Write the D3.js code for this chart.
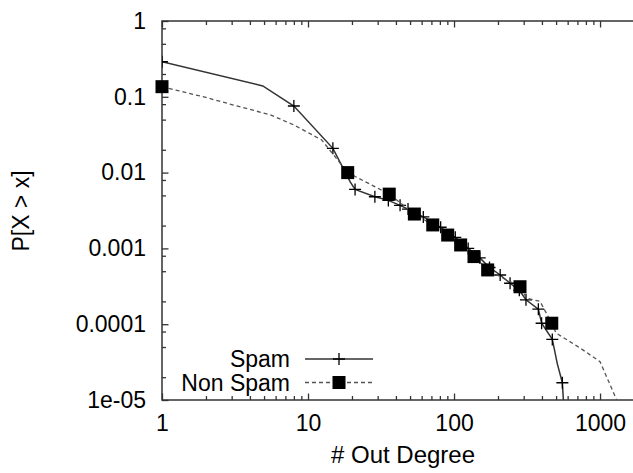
<!DOCTYPE html>
<html>
<head>
<meta charset="utf-8">
<script src="https://cdn.jsdelivr.net/npm/d3@7"></script>
<style>
  body { margin: 0; background: #fff; }
  svg { display: block; font-family: "Liberation Sans", Arial, sans-serif; }
</style>
</head>
<body>
<div id="chart"></div>
<script>
// out degree CCDF
var spamX = [1, 4.9, 8, 14.8, 19.5, 21, 28.7, 35.5, 42.7, 48.4, 61.6, 81, 102, 125, 150, 175, 207, 242, 280, 311, 378, 398, 471, 510, 552, 561];
var spamP = [0.29, 0.139, 0.0756, 0.0209, 0.0075, 0.006, 0.0048, 0.0043, 0.0037, 0.0033, 0.0026, 0.0019, 0.0014, 0.001, 0.00075, 0.00056, 0.000446, 0.000347, 0.00028, 0.00021, 0.000158, 0.000103, 6.3e-5, 3e-5, 1.69e-5, 1e-5];
var spamMark = [1, 0, 1, 1, 0, 1, 1, 1, 1, 1, 1, 1, 1, 1, 1, 1, 1, 1, 1, 1, 1, 1, 1, 0, 1, 0];

var nonX = [1, 2, 3.4, 5.5, 8, 12.4, 18.7, 36, 53.5, 71.5, 90.5, 111, 137, 170, 220, 283, 315, 388, 467, 500, 730, 1000, 1300];
var nonP = [0.136, 0.098, 0.074, 0.058, 0.0425, 0.027, 0.01, 0.0052, 0.00284, 0.00204, 0.0015, 0.00111, 0.00078, 0.00052, 0.0004, 0.000312, 0.00022, 0.0002, 0.000103, 7.65e-5, 4.85e-5, 3.2e-5, 1e-5];
var nonMark = [1, 0, 0, 0, 0, 0, 1, 1, 1, 1, 1, 1, 1, 1, 0, 1, 0, 0, 1, 0, 0, 0, 0];

var xTickValues = [1, 10, 100, 1000];
var xTickLabels = ["1", "10", "100", "1000"];
var yTickValues = [1, 0.1, 0.01, 0.001, 0.0001, 0.00001];
var yTickLabels = ["1", "0.1", "0.01", "0.001", "0.0001", "1e-05"];
var xMinorSteps = [2, 3, 4, 5, 6, 7, 8, 9];
var yMinorSteps = [2, 5, 8];

var seriesNames = ["Spam", "Non Spam"];

var width = 633, height = 473;
var margin = {top: 21, left: 162, bottom: 73};
var plotW = 482, plotH = height - margin.top - margin.bottom;

var svg = d3.select("#chart").append("svg")
    .attr("width", width)
    .attr("height", height);

var g = svg.append("g")
    .attr("transform", "translate(" + margin.left + "," + margin.top + ")");

var x = d3.scaleLog().domain([1, 2000]).range([0, plotW]);
var y = d3.scaleLog().domain([1e-5, 1]).range([plotH, 0]);

// minor tick values per decade
var xMinor = [];
[1, 10, 100, 1000].forEach(function(d) {
  xMinorSteps.forEach(function(s) { if (d * s <= 2000) xMinor.push(d * s); });
});
var yMinor = [];
[1e-5, 1e-4, 1e-3, 1e-2, 1e-1].forEach(function(d) {
  yMinorSteps.forEach(function(s) { yMinor.push(d * s); });
});

var axisColor = "#333";
var fontSize = 23;

function styleAxis(sel) {
  sel.select(".domain").remove();
  sel.selectAll(".tick line").attr("stroke", axisColor).attr("stroke-width", 1.3);
  sel.selectAll(".tick text")
    .attr("fill", "#000")
    .style("font-size", fontSize + "px")
    .style("font-family", "'Liberation Sans', Arial, sans-serif");
}

// bottom axis, ticks point inward
g.append("g")
    .attr("transform", "translate(0," + plotH + ")")
    .call(d3.axisBottom(x).tickValues(xTickValues)
      .tickFormat(function(d, i) { return xTickLabels[i]; })
      .tickSizeInner(-6.5).tickSizeOuter(0).tickPadding(15))
    .call(styleAxis);
g.append("g")
    .attr("transform", "translate(0," + plotH + ")")
    .call(d3.axisBottom(x).tickValues(xMinor).tickFormat("").tickSizeInner(-4).tickSizeOuter(0))
    .call(styleAxis);

// top mirror ticks
g.append("g")
    .call(d3.axisTop(x).tickValues(xTickValues).tickFormat("").tickSizeInner(-6.5).tickSizeOuter(0))
    .call(styleAxis);
g.append("g")
    .call(d3.axisTop(x).tickValues(xMinor).tickFormat("").tickSizeInner(-4).tickSizeOuter(0))
    .call(styleAxis);

// left axis
g.append("g")
    .call(d3.axisLeft(y).tickValues(yTickValues)
      .tickFormat(function(d, i) { return yTickLabels[i]; })
      .tickSizeInner(-6.5).tickSizeOuter(0).tickPadding(16))
    .call(styleAxis);
g.append("g")
    .call(d3.axisLeft(y).tickValues(yMinor).tickFormat("").tickSizeInner(-4).tickSizeOuter(0))
    .call(styleAxis);

// right mirror (mostly off screen)
g.append("g")
    .attr("transform", "translate(" + plotW + ",0)")
    .call(d3.axisRight(y).tickValues(yTickValues).tickFormat("").tickSizeInner(-6.5).tickSizeOuter(0))
    .call(styleAxis);

// frame
g.append("rect")
    .attr("width", plotW)
    .attr("height", plotH)
    .attr("fill", "none")
    .attr("stroke", axisColor)
    .attr("stroke-width", 1.5);

g.append("clipPath").attr("id", "clip")
  .append("rect").attr("width", plotW).attr("height", plotH + 1);

var line = d3.line()
    .x(function(d) { return x(d.x); })
    .y(function(d) { return y(d.p); });

var spam = spamX.map(function(v, i) { return {x: v, p: spamP[i], mark: spamMark[i]}; });
var nonSpam = nonX.map(function(v, i) { return {x: v, p: nonP[i], mark: nonMark[i]}; });

var crossPath = "M-6,0H6M0,-6V6";
var sq = 13;

var data = g.append("g").attr("clip-path", "url(#clip)");

data.append("path")
    .datum(spam)
    .attr("d", line)
    .attr("fill", "none")
    .attr("stroke", "#333")
    .attr("stroke-width", 1.5);

data.selectAll(".cross")
    .data(spam.filter(function(d) { return d.mark; }))
    .enter().append("path")
    .attr("class", "cross")
    .attr("transform", function(d) { return "translate(" + x(d.x) + "," + y(d.p) + ")"; })
    .attr("d", crossPath)
    .attr("stroke", "#000")
    .attr("stroke-width", 1.3);

data.append("path")
    .datum(nonSpam)
    .attr("d", line)
    .attr("fill", "none")
    .attr("stroke", "#555")
    .attr("stroke-width", 1.3)
    .attr("stroke-dasharray", "4,3");

// squares sit on top, not clipped at the left edge
g.selectAll(".sq")
    .data(nonSpam.filter(function(d) { return d.mark; }))
    .enter().append("rect")
    .attr("class", "sq")
    .attr("x", function(d) { return x(d.x) - sq / 2; })
    .attr("y", function(d) { return y(d.p) - sq / 2; })
    .attr("width", sq)
    .attr("height", sq)
    .attr("fill", "#000");

// legend
var legend = g.append("g")
    .selectAll("g")
    .data(seriesNames)
    .enter().append("g")
    .attr("transform", function(d, i) { return "translate(0," + (338 + i * 23.5) + ")"; });

legend.append("text")
    .attr("x", 128)
    .attr("dy", "0.35em")
    .attr("text-anchor", "end")
    .style("font-size", fontSize + "px")
    .text(function(d) { return d; });

legend.append("line")
    .attr("x1", 143)
    .attr("x2", 211)
    .attr("stroke", function(d, i) { return i ? "#555" : "#333"; })
    .attr("stroke-width", function(d, i) { return i ? 1.3 : 1.5; })
    .attr("stroke-dasharray", function(d, i) { return i ? "4,3" : null; });

legend.append("path")
    .filter(function(d, i) { return i === 0; })
    .attr("transform", "translate(177,0)")
    .attr("d", crossPath)
    .attr("stroke", "#000")
    .attr("stroke-width", 1.3);

legend.filter(function(d, i) { return i === 1; })
  .append("rect")
    .attr("x", 177 - sq / 2)
    .attr("y", -sq / 2)
    .attr("width", sq)
    .attr("height", sq)
    .attr("fill", "#000");

// axis titles
svg.append("text")
    .attr("x", margin.left + plotW / 2)
    .attr("y", 463)
    .attr("text-anchor", "middle")
    .style("font-size", "24px")
    .text("# Out Degree");

svg.append("text")
    .attr("transform", "translate(29,211) rotate(-90)")
    .attr("text-anchor", "middle")
    .style("font-size", fontSize + "px")
    .text("P[X > x]");
</script>
</body>
</html>
